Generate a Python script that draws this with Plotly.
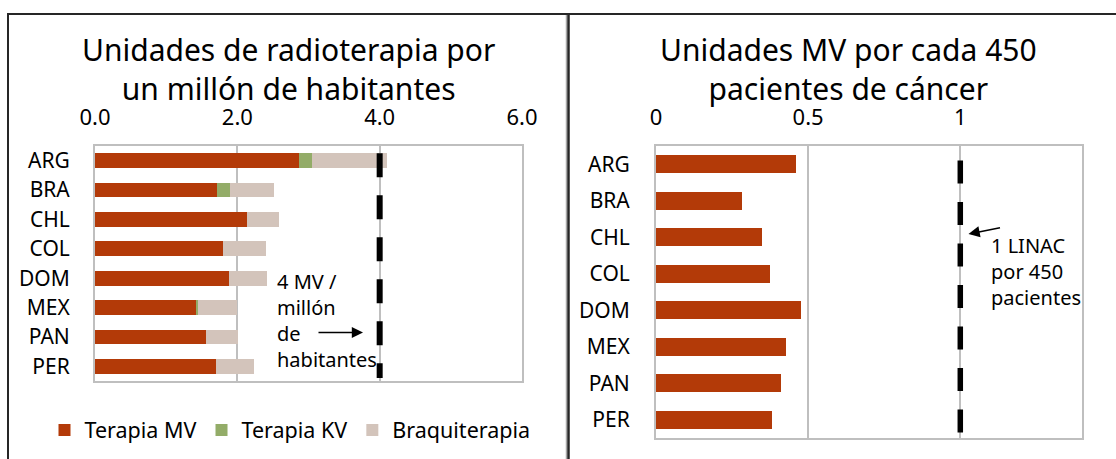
import plotly.graph_objects as go

# --- data -------------------------------------------------------------
countries = ["ARG", "BRA", "CHL", "COL", "DOM", "MEX", "PAN", "PER"]

# units per million inhabitants (stacked)
terapia_mv = [2.87, 1.72, 2.14, 1.80, 1.88, 1.43, 1.56, 1.70]
terapia_kv = [0.18, 0.18, 0.00, 0.00, 0.00, 0.02, 0.00, 0.00]
braquiterapia = [1.05, 0.62, 0.45, 0.60, 0.54, 0.55, 0.45, 0.53]

# MV units per 450 cancer patients
mv_por_450 = [0.461, 0.284, 0.348, 0.373, 0.476, 0.426, 0.410, 0.380]

# reference levels
ref_millon = 4.0
ref_linac = 1.0

left_ticks = [0, 2, 4, 6]
right_ticks = [0, 0.5, 1]

# --- styling ----------------------------------------------------------
W, H = 1116, 459
FONT = "Noto Sans, DejaVu Sans, sans-serif"
C_MV = "#B33A08"
C_KV = "#93AC68"
C_BRAQ = "#D3C4BB"
GRID = "#BFBFBF"


def px_x(p):
    return p / W


def px_y(p):
    return 1 - p / H


fig = go.Figure()

fig.add_trace(go.Bar(name="Terapia MV", y=countries, x=terapia_mv, orientation="h",
                     marker=dict(color=C_MV, line=dict(width=0)), xaxis="x", yaxis="y"))
fig.add_trace(go.Bar(name="Terapia KV", y=countries, x=terapia_kv, orientation="h",
                     marker=dict(color=C_KV, line=dict(width=0)), xaxis="x", yaxis="y"))
fig.add_trace(go.Bar(name="Braquiterapia", y=countries, x=braquiterapia, orientation="h",
                     marker=dict(color=C_BRAQ, line=dict(width=0)), xaxis="x", yaxis="y"))
fig.add_trace(go.Bar(name="MV por 450", y=countries, x=mv_por_450, orientation="h",
                     marker=dict(color=C_MV, line=dict(width=0)), xaxis="x2", yaxis="y2",
                     showlegend=False))

axis_common = dict(showline=True, mirror=True, linecolor=GRID, linewidth=2,
                   zeroline=False, automargin=False)
xtick_font = dict(family=FONT, size=22, color="#000")
ytick_font = dict(family=FONT, size=21, color="#000")

fig.update_layout(
    width=W, height=H,
    margin=dict(l=0, r=0, t=0, b=0),
    paper_bgcolor="white", plot_bgcolor="white",
    barmode="stack", bargap=0.5,
    font=dict(family=FONT, color="#000"),
    xaxis=dict(domain=[px_x(95), px_x(522)], range=[0, 6], side="top",
               tickvals=left_ticks, tickformat=".1f", showgrid=True,
               gridcolor=GRID, gridwidth=2, ticks="", ticklabelstandoff=10,
               tickfont=xtick_font, anchor="y", **axis_common),
    yaxis=dict(domain=[px_y(381), px_y(146)], autorange="reversed",
               showgrid=False, ticks="", ticklabelstandoff=19, anchor="x",
               tickfont=ytick_font, **axis_common),
    xaxis2=dict(domain=[px_x(656), px_x(1082)], range=[0, 1.4], side="top",
                tickvals=right_ticks, showgrid=True, gridcolor=GRID, gridwidth=2,
                ticks="", ticklabelstandoff=10, tickfont=xtick_font, anchor="y2",
                **axis_common),
    yaxis2=dict(domain=[px_y(438), px_y(146)], autorange="reversed",
                showgrid=False, ticks="", ticklabelstandoff=20, anchor="x2",
                tickfont=ytick_font, **axis_common),
    legend=dict(orientation="h", x=px_x(290), xanchor="center", y=px_y(430),
                yanchor="middle", font=dict(family=FONT, size=21.5, color="#000"),
                bgcolor="rgba(0,0,0,0)", traceorder="normal", itemwidth=30),
)

# reference dashed lines
fig.add_shape(type="line", xref="x", yref="y domain", x0=ref_millon, x1=ref_millon,
              y0=0.969, y1=0.013, line=dict(color="black", width=6, dash="24px,18px"))
fig.add_shape(type="line", xref="x2", yref="y2 domain", x0=ref_linac, x1=ref_linac,
              y0=0.950, y1=0.018, line=dict(color="black", width=5.5, dash="23px,18.5px"))

# panel frames
fig.add_shape(type="line", xref="paper", yref="paper", x0=px_x(566.5), x1=px_x(566.5),
              y0=-0.05, y1=px_y(14), line=dict(color="#A6A6A6", width=1.5))
fig.add_shape(type="rect", xref="paper", yref="paper", x0=px_x(8), x1=px_x(568.5),
              y0=-0.05, y1=px_y(14), line=dict(color="#262626", width=2))
fig.add_shape(type="rect", xref="paper", yref="paper", x0=px_x(568.5), x1=1.05,
              y0=-0.05, y1=px_y(14), line=dict(color="#262626", width=2))

# titles
fig.add_annotation(text="Unidades de radioterapia por<br>un millón de habitantes",
                   xref="paper", yref="paper", x=px_x(288), y=px_y(69),
                   showarrow=False, xanchor="center", yanchor="middle",
                   font=dict(family=FONT, size=30, color="#000"))
fig.add_annotation(text="Unidades MV por cada 450<br>pacientes de cáncer",
                   xref="paper", yref="paper", x=px_x(848), y=px_y(69),
                   showarrow=False, xanchor="center", yanchor="middle",
                   font=dict(family=FONT, size=30, color="#000"))

# callouts
fig.add_annotation(text="4 MV /<br>millón<br>de<br>habitantes", align="left",
                   xref="paper", yref="paper", x=px_x(275), y=px_y(320.5),
                   showarrow=False, xanchor="left", yanchor="middle",
                   font=dict(family=FONT, size=20, color="#000"))
fig.add_annotation(text="", xref="paper", yref="paper", x=px_x(363), y=px_y(332.5),
                   ax=-46, ay=0, showarrow=True, arrowhead=2, arrowsize=1.4,
                   arrowwidth=1.6, arrowcolor="black")
fig.add_annotation(text="1 LINAC<br>por 450<br>pacientes", align="left",
                   xref="paper", yref="paper", x=px_x(989), y=px_y(271),
                   showarrow=False, xanchor="left", yanchor="middle",
                   font=dict(family=FONT, size=20, color="#000"))
fig.add_annotation(text="", xref="paper", yref="paper", x=px_x(968.5), y=px_y(234),
                   ax=33, ay=-6.5, showarrow=True, arrowhead=2, arrowsize=1.4,
                   arrowwidth=1.6, arrowcolor="black")

fig.write_html("out.html")
